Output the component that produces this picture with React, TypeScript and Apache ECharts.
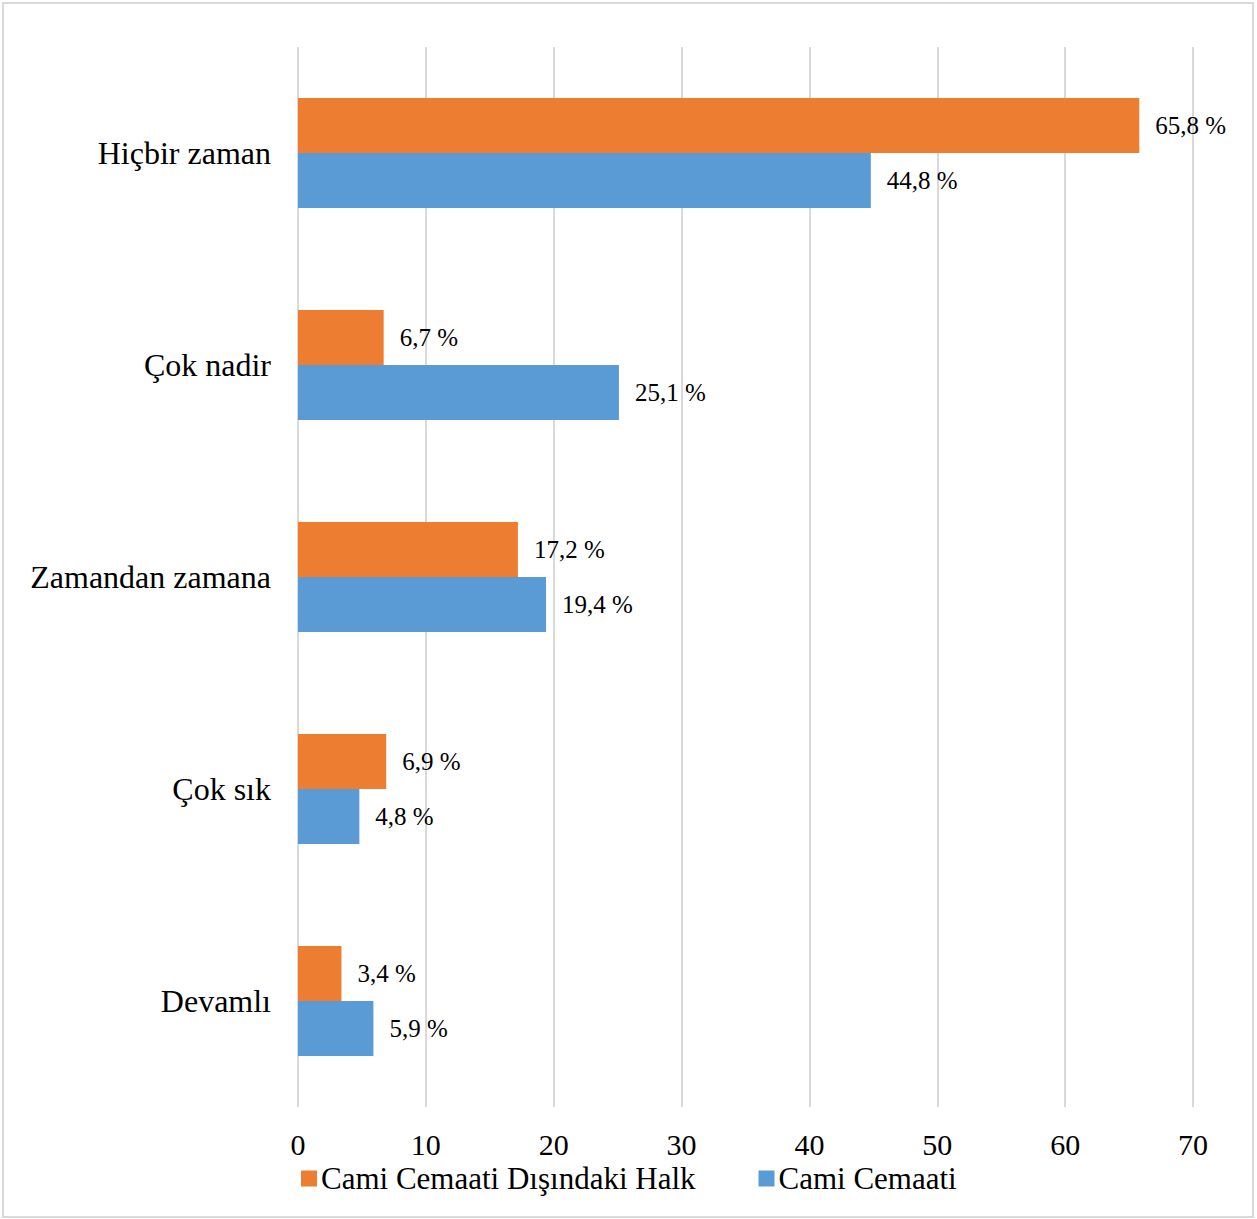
import React, { useEffect, useRef } from "react";
import * as echarts from "echarts";

const categories = ["Hiçbir zaman", "Çok nadir", "Zamandan zamana", "Çok sık", "Devamlı"];
const seriesNames = ["Cami Cemaati Dışındaki Halk", "Cami Cemaati"];
const outsideValues = [65.8, 6.7, 17.2, 6.9, 3.4];
const cemaatValues = [44.8, 25.1, 19.4, 4.8, 5.9];
const xTicks = { min: 0, max: 70, interval: 10 };

const FONT = "Liberation Serif";

export default function App() {
  const ref = useRef<HTMLDivElement>(null);
  useEffect(() => {
    if (!ref.current) return;
    const chart = echarts.init(ref.current, undefined, { renderer: "svg" });
    const label = {
      show: true,
      position: "right",
      distance: 16,
      color: "#000",
      fontFamily: FONT,
      fontSize: 25,
      formatter: (p: any) => String(p.value).replace(".", ",") + " %",
    };
    chart.setOption({
      animation: false,
      backgroundColor: "#fff",
      graphic: [
        {
          type: "rect",
          shape: { x: 3, y: 3, width: 1250, height: 1214 },
          style: { fill: "none", stroke: "#d9d9d9", lineWidth: 2 },
          silent: true,
        },
      ],
      grid: { left: 298, right: 64, top: 47, bottom: 112, containLabel: false },
      legend: {
        left: 296,
        top: 1158,
        itemWidth: 16,
        itemHeight: 16,
        itemGap: 63,
        icon: "rect",
        textStyle: { fontFamily: FONT, fontSize: 31, color: "#000", padding: [0, 0, 0, -1] },
        data: seriesNames,
      },
      xAxis: {
        type: "value",
        min: xTicks.min,
        max: xTicks.max,
        interval: xTicks.interval,
        axisLine: { show: false },
        axisTick: { show: false },
        splitLine: { show: true, lineStyle: { color: "#d9d9d9", width: 2 } },
        axisLabel: { fontFamily: FONT, fontSize: 30, color: "#000", margin: 22 },
      },
      yAxis: {
        type: "category",
        inverse: true,
        data: categories,
        axisLine: { show: false },
        axisTick: { show: false },
        axisLabel: { fontFamily: FONT, fontSize: 32, color: "#000", margin: 27 },
      },
      series: [
        {
          name: seriesNames[0],
          type: "bar",
          data: outsideValues,
          barWidth: 55,
          barGap: "0%",
          itemStyle: { color: "#ED7D31" },
          label,
        },
        {
          name: seriesNames[1],
          type: "bar",
          data: cemaatValues,
          barWidth: 55,
          barGap: "0%",
          itemStyle: { color: "#5B9BD5" },
          label,
        },
      ],
    });
    return () => chart.dispose();
  }, []);
  return (
    <div
      ref={ref}
      style={{ position: "absolute", left: 0, top: 0, width: 1257, height: 1219 }}
    />
  );
}
